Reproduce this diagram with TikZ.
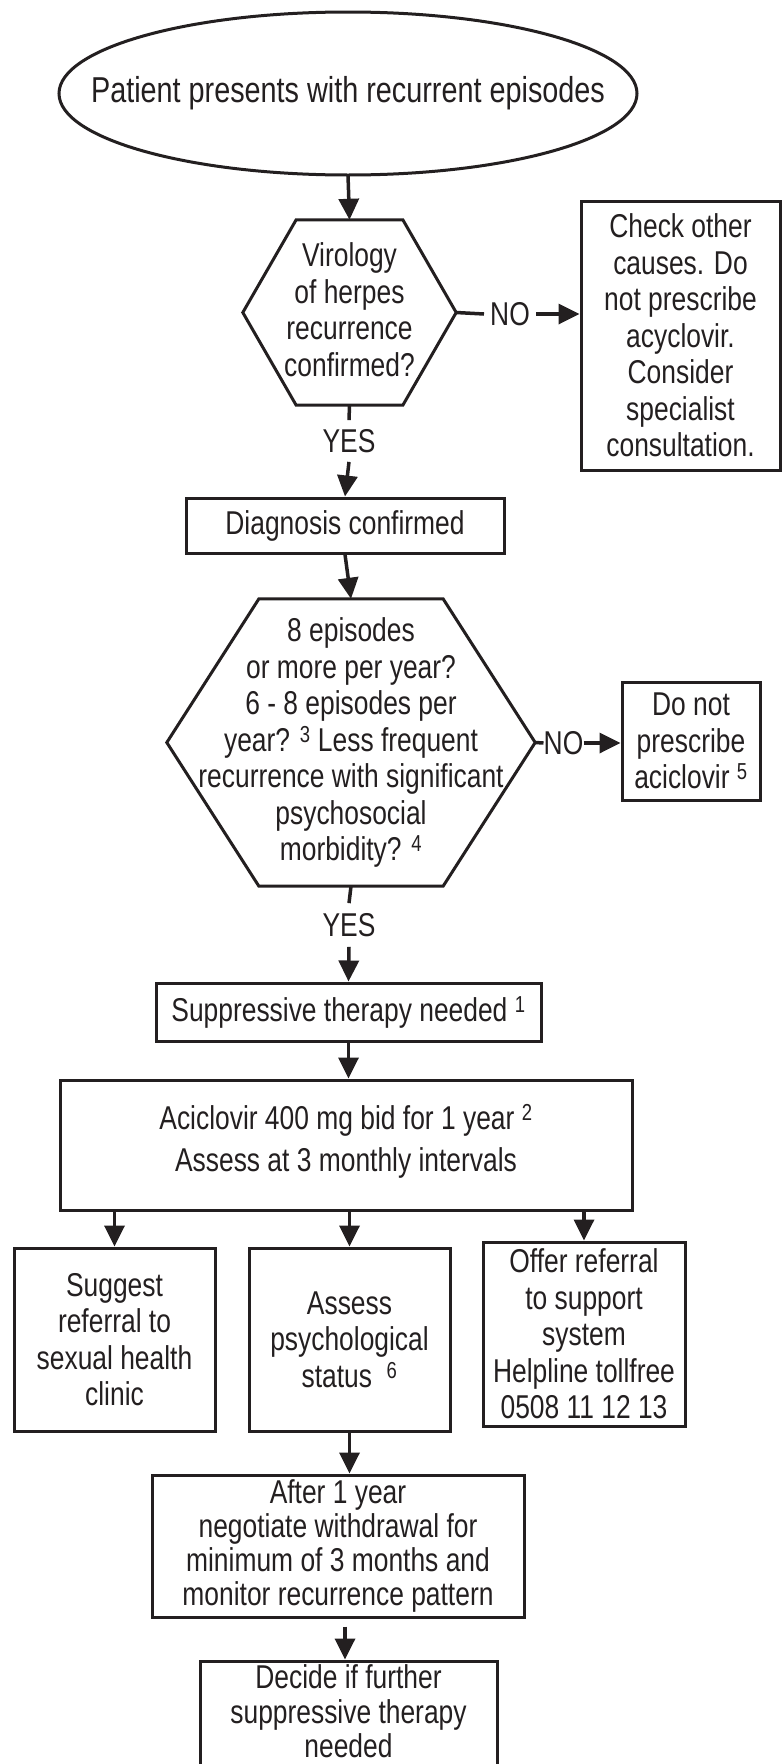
\documentclass[tikz,border=0pt]{standalone}
\usepackage{fontspec}
\setmainfont{Liberation Sans}[FakeStretch=0.8]
\usetikzlibrary{arrows.meta,calc}
\definecolor{ink}{HTML}{231F20}
\begin{document}
\begin{tikzpicture}[x=1pt,y=-1pt,
  every node/.style={font=\fontsize{33}{36.5}\selectfont, text=ink, align=center},
  box/.style={draw=ink, line width=3pt, inner sep=0pt},
  frame/.style={inner sep=0pt},
  lbl/.style={inner xsep=4pt, inner ysep=9pt},
  ln/.style={draw=ink, line width=3.5pt},
  arr/.style={draw=ink, line width=3.5pt, -{Triangle[length=21pt,width=20pt]}},
  hexline/.style={draw=ink, line width=3pt, line join=miter}
]
\useasboundingbox (0,0) rectangle (782,1764);
\clip (0,0) rectangle (782,1764);

% start ellipse
\node[frame, minimum width=578pt, minimum height=163pt,
      font=\fontsize{36}{40}\selectfont] (ell) at (348,93.5) {Patient presents with recurrent episodes\vphantom{y}};
\draw[draw=ink, line width=3pt] (ell.center) ellipse [x radius=289, y radius=81.5];

% hexagon 1
\node[frame, minimum width=213pt, minimum height=185pt] (h1) at (349.5,312.5)
  {Virology\\of herpes\\recurrence\\confirmed?\rule[-6pt]{0pt}{1pt}};
\draw[hexline] (h1.west) -- ($(h1.north west)!0.25!(h1.north east)$) -- ($(h1.north west)!0.75!(h1.north east)$)
  -- (h1.east) -- ($(h1.south west)!0.75!(h1.south east)$) -- ($(h1.south west)!0.25!(h1.south east)$) -- cycle;

\node[box, minimum width=199pt, minimum height=269pt] (chk) at (680.5,335.5)
  {Check other\\causes. Do\\not prescribe\\acyclovir.\\Consider\\specialist\\consultation.};

\node[lbl, inner xsep=6pt] (no1) at (510,314) {NO};
\node[lbl] (yes1) at (349,441) {YES};

\node[box, minimum width=318pt, minimum height=55pt] (diag) at (345,525.5) {Diagnosis confirmed};

% hexagon 2
\node[frame, minimum width=368pt, minimum height=287pt] (h2) at (351,742.5)
  {8 episodes\\or more per year?\\6 - 8 episodes per\\year? \textsuperscript{3} Less frequent\\recurrence with significant\\psychosocial\\morbidity? \textsuperscript{4}};
\draw[hexline] (h2.west) -- ($(h2.north west)!0.25!(h2.north east)$) -- ($(h2.north west)!0.75!(h2.north east)$)
  -- (h2.east) -- ($(h2.south west)!0.75!(h2.south east)$) -- ($(h2.south west)!0.25!(h2.south east)$) -- cycle;

\node[box, minimum width=138pt, minimum height=118pt] (donot) at (691,741)
  {Do not\\prescribe\\aciclovir \textsuperscript{5}};

\node[inner xsep=0pt, inner ysep=9pt] (no2) at (563.5,743) {NO};
\node[lbl, inner ysep=10pt] (yes2) at (349,925) {YES};

\node[box, minimum width=385pt, minimum height=58pt] (supp) at (348.5,1012)
  {Suppressive therapy needed \textsuperscript{1}};

\node[box, minimum width=572pt, minimum height=130pt, font=\fontsize{33}{42}\selectfont] (acic) at (346,1145)
  {Aciclovir 400 mg bid for 1 year \textsuperscript{2}\\Assess at 3 monthly intervals\rule[-14pt]{0pt}{1pt}};

\node[box, minimum width=201pt, minimum height=183pt] (left) at (114.5,1339.5)
  {Suggest\\referral to\\sexual health\\clinic};
\node[box, minimum width=201pt, minimum height=183pt] (mid) at (349.5,1339.5)
  {Assess\\psychological\\status\ \ \textsuperscript{6}};
\node[box, minimum width=202pt, minimum height=184pt] (right) at (584,1334)
  {Offer referral\\to support\\system\\Helpline tollfree\\0508 11 12 13};

\node[box, minimum width=372pt, minimum height=142pt, font=\fontsize{33}{34}\selectfont] (after) at (338,1546)
  {After 1 year\\negotiate withdrawal for\\minimum of 3 months and\\monitor recurrence pattern};

\node[box, minimum width=297pt, minimum height=112pt, font=\fontsize{33}{34.5}\selectfont] (decide) at (348.5,1717)
  {Decide if further\\suppressive therapy\\needed\rule[-11pt]{0pt}{1pt}};

% connectors
\draw[arr] (ell.south) -- (h1.north);
\draw[ln] (h1.east) -- (no1.west);
\draw[arr] (no1.east) -- (no1.east -| chk.west);
\draw[ln] (h1.south) -- (yes1.north);
\draw[arr] (yes1.south) -- (diag.north);
\draw[arr] (diag.south) -- (h2.north);
\draw[ln] (h2.east) -- (no2.west);
\draw[arr] (no2.east) -- (no2.east -| donot.west);
\draw[ln] (h2.south) -- (yes2.north);
\draw[arr] (yes2.south) -- (supp.north);
\draw[arr] (supp.south) -- (supp.south |- acic.north);
\draw[arr] (acic.south -| left.north) -- (left.north);
\draw[arr] (acic.south -| mid.north) -- (mid.north);
\draw[arr] (acic.south -| right.north) -- (right.north);
\draw[arr] (mid.south) -- (mid.south |- after.north);
\coordinate (afterout) at ($(after.south -| 345,0)+(0,8)$);
\draw[arr] (afterout) -- (afterout |- decide.north);
\end{tikzpicture}
\end{document}
